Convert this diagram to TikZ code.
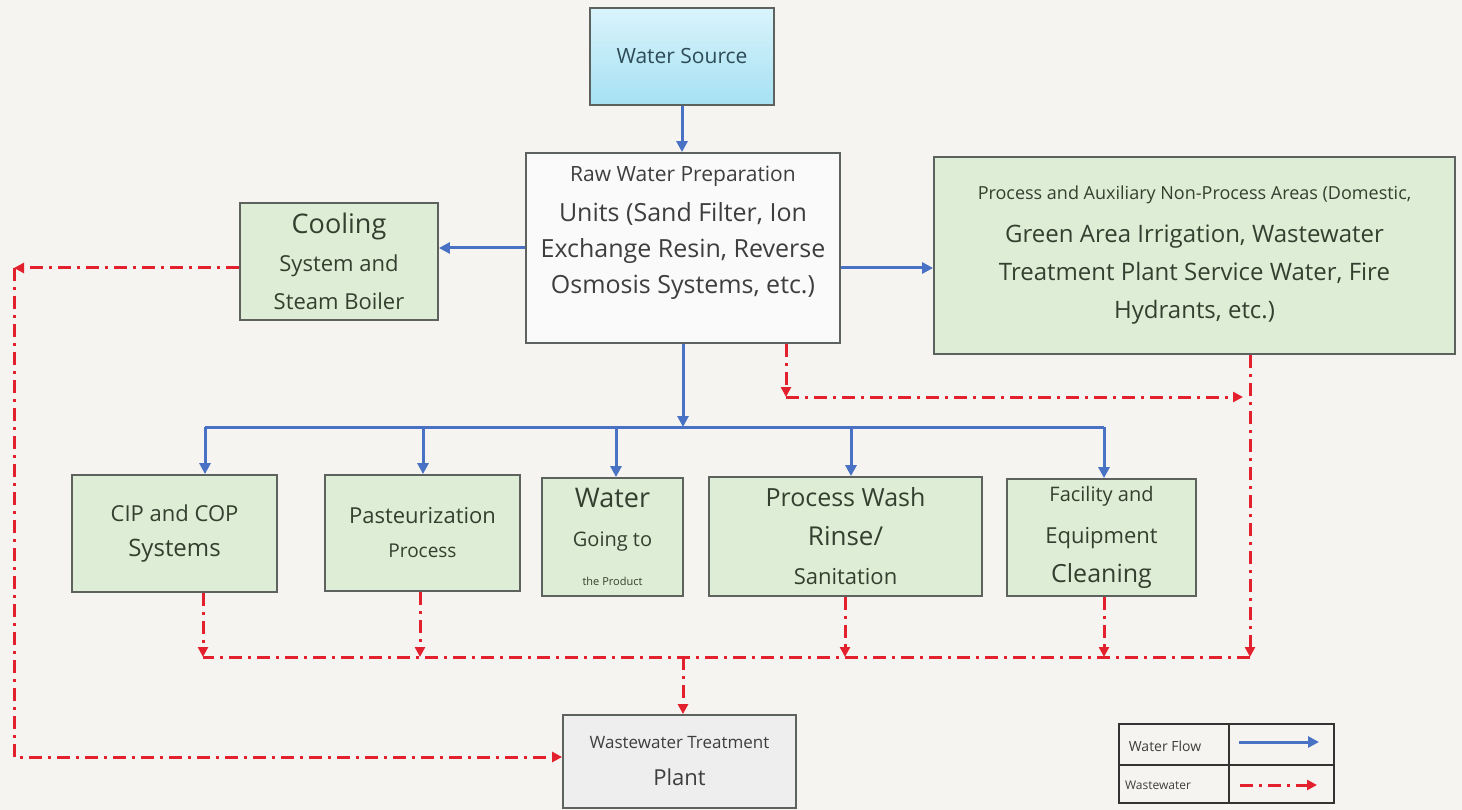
\documentclass[tikz,border=0pt]{standalone}
\usepackage{fontspec}
\setmainfont{Open Sans}
\usetikzlibrary{arrows.meta}
\definecolor{bgpaper}{HTML}{F6F4F0}
\definecolor{boxgreen}{HTML}{DEEDD6}
\definecolor{rawwhite}{HTML}{FAFAFA}
\definecolor{plantgray}{HTML}{EEEEEE}
\definecolor{srctop}{HTML}{D9F4FB}
\definecolor{srcbot}{HTML}{A6E1F3}
\definecolor{srctxt}{HTML}{2E4B58}
\definecolor{flowblue}{HTML}{4A72C4}
\definecolor{wastered}{HTML}{E3202E}
\definecolor{edgegray}{HTML}{5E625E}
\definecolor{txtgreen}{HTML}{34402F}
\definecolor{txtgray}{HTML}{3E3E3E}
\newcommand{\txsz}[2]{\fontsize{#1}{#2}\selectfont}

\begin{document}
\begin{tikzpicture}[x=1pt,y=-1pt,
  box/.style={draw=edgegray,line width=1.8pt,align=center,inner sep=0pt},
  greenbox/.style={box,fill=boxgreen,text=txtgreen},
  flow/.style={draw=flowblue,line width=3pt,-{Triangle[length=11pt,width=11pt]}},
  flowline/.style={draw=flowblue,line width=3pt},
  waste/.style={draw=wastered,line width=3pt,dash pattern=on 13pt off 6pt on 3pt off 6pt,-{Triangle[length=10pt,width=10pt]}},
  wasteline/.style={draw=wastered,line width=3pt,dash pattern=on 13pt off 6pt on 3pt off 6pt}]
\fill[bgpaper] (0,0) rectangle (1462,810);

\node[box,top color=srctop,bottom color=srcbot,text=srctxt,minimum width=184pt,minimum height=97pt,font=\txsz{21}{25}] (src) at (682,56.5) {Water Source};
\node[box,fill=rawwhite,minimum width=314pt,minimum height=190pt] (raw) at (683,248) {};
\node[align=center,text=txtgray,inner sep=0pt,font=\txsz{25}{36}] (rawtxt) at (683,233) {\txsz{21}{36}Raw Water Preparation\\[4pt]\txsz{25}{36}Units (Sand Filter, Ion\\\txsz{25}{36}Exchange Resin, Reverse\\\txsz{25}{36}Osmosis Systems, etc.)};
\node[greenbox,minimum width=198pt,minimum height=117pt,font=\txsz{22}{38}] (cool) at (339,261.5) {\txsz{27}{38}Cooling\\\txsz{22}{38}System and\\\txsz{22}{38}Steam Boiler};
\node[greenbox,minimum width=521pt,minimum height=197pt,font=\txsz{24}{38}] (aux) at (1194.5,255.5) {\txsz{18}{38}Process and Auxiliary Non-Process Areas (Domestic,\\[5pt]\txsz{24}{38}Green Area Irrigation, Wastewater\\\txsz{24}{38}Treatment Plant Service Water, Fire\\\txsz{24}{38}Hydrants, etc.)};

\node[greenbox,minimum width=205pt,minimum height=117pt,font=\txsz{22}{35}] (cip) at (174.5,533.5) {\txsz{22}{35}CIP and COP\\\txsz{24}{35}Systems};
\node[greenbox,minimum width=195pt,minimum height=116pt,font=\txsz{22}{34}] (past) at (422.5,533) {\txsz{22}{34}Pasteurization\\\txsz{19}{34}Process};
\node[greenbox,minimum width=141pt,minimum height=118pt,font=\txsz{20}{39}] (prod) at (612.5,537) {\txsz{27}{39}Water\\\txsz{20}{39}Going to\\\txsz{11}{39}the Product};
\node[greenbox,minimum width=273pt,minimum height=119pt,font=\txsz{24}{39}] (wash) at (845.5,536.5) {\txsz{25}{39}Process Wash\\\txsz{26}{39}Rinse/\\\txsz{22}{39}Sanitation};
\node[greenbox,minimum width=189pt,minimum height=117pt,font=\txsz{22}{39}] (clean) at (1101.5,537.5) {\txsz{20}{39}Facility and\\[3pt]\txsz{22}{39}Equipment\\\txsz{25}{39}Cleaning};
\node[box,fill=plantgray,text=txtgray,minimum width=233pt,minimum height=93pt,font=\txsz{20}{35}] (wwtp) at (679.5,761.5) {\txsz{17}{35}Wastewater Treatment\\[2pt]\txsz{22}{35}Plant};

% water flow
\draw[flow] (src.south) -- (src.south |- raw.north);
\draw[flow] (raw.west) -- (raw.west -| cool.east);
\draw[flow] ([yshift=-20pt]raw.east) -- ([yshift=-20pt]raw.east -| aux.west);
\coordinate (bus) at (683,427);
\coordinate (busL) at (205,427);
\coordinate (busR) at (1104,427);
\draw[flow] (raw.south) -- (bus);
\draw[flowline] (busL) -- (busR);
\foreach \n/\d in {cip/30.5,past/0.5,prod/3.5,wash/5.5,clean/2.5}
  \draw[flow] ([xshift=\d pt]\n.north |- bus) -- ([xshift=\d pt]\n.north);

% wastewater
\coordinate (coolL) at (14,268);
\draw[waste] ([yshift=-6.5pt]cool.west) -- (coolL);
\draw[waste] (coolL) |- ([yshift=4.5pt]wwtp.west);
\coordinate (rawW) at (786,397);
\coordinate (auxW) at (1243,397);
\draw[waste] (raw.south -| rawW) -- (rawW);
\draw[waste] (rawW) -- (auxW);
\coordinate (sumR) at (1250,657);
\coordinate (sumL) at (203,657);
\coordinate (sumM) at (683,657);
\draw[waste] (aux.south -| sumR) -- (sumR);
\draw[wasteline] (sumR) -- (sumL);
\foreach \n/\d in {cip/28.5,past/-2.5,wash/-0.5,clean/2.5}
  \draw[waste] ([xshift=\d pt]\n.south) -- ([xshift=\d pt]\n.south |- sumL);
\draw[waste] (sumM) -- (sumM |- wwtp.north);

% legend
\draw[line width=1.8pt,draw=black!80] (1119,724) rectangle (1334,803);
\draw[line width=1.8pt,draw=black!80] (1229,724) -- (1229,803);
\draw[line width=1.8pt,draw=black!80] (1119,765) -- (1334,765);
\node[text=txtgray,font=\txsz{14}{16}] (lgflow) at (1165,746) {Water Flow};
\node[text=txtgray,font=\txsz{12}{14}] (lgwaste) at (1158,785) {Wastewater};
\coordinate (lgb1) at (1239,742);
\coordinate (lgb2) at (1319,742);
\coordinate (lgr1) at (1240,785);
\coordinate (lgr2) at (1317,785);
\draw[flow] (lgb1) -- (lgb2);
\draw[waste] (lgr1) -- (lgr2);
\end{tikzpicture}
\end{document}
